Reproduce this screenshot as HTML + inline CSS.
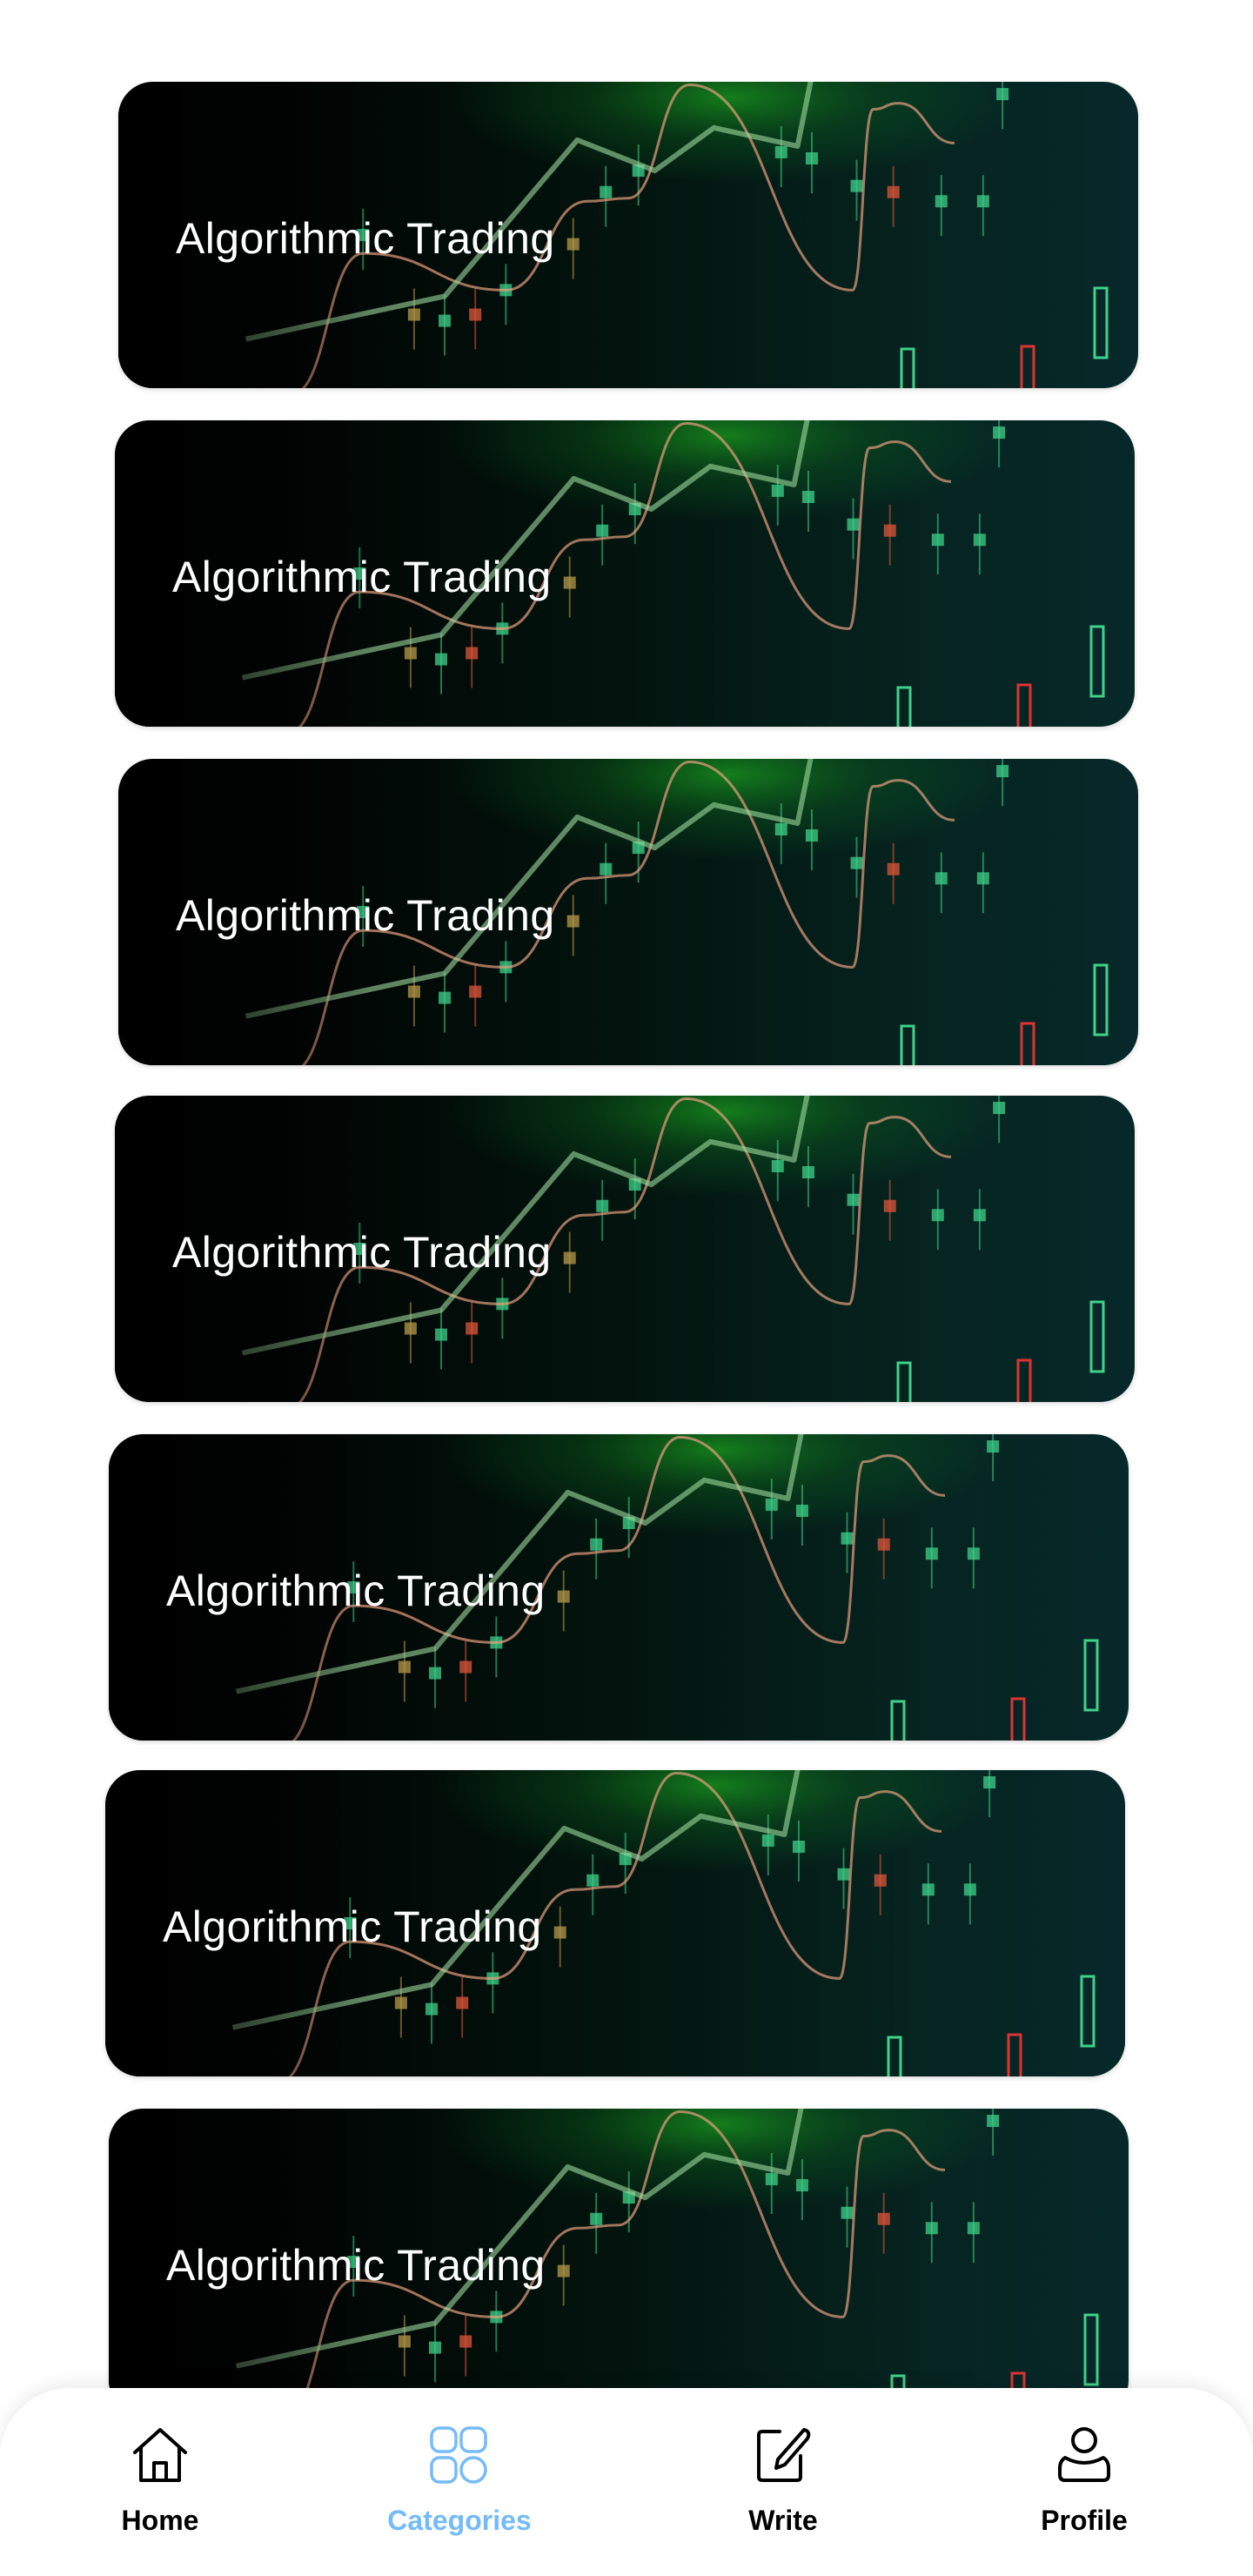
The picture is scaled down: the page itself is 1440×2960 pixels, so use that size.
<!DOCTYPE html>
<html><head><meta charset="utf-8">
<style>
html,body{margin:0;padding:0;background:#fff;}
body{width:1440px;height:2960px;position:relative;overflow:hidden;font-family:"Liberation Sans",sans-serif;}
.card{position:absolute;width:1172px;height:352px;border-radius:40px;overflow:hidden;
 background:linear-gradient(90deg,#000 0%,#010604 20%,#03140e 50%,#062420 80%,#07282a 100%);box-shadow:0 2px 6px rgba(0,0,0,.15);}
.card svg{position:absolute;left:0;top:0;}
.card .title{position:absolute;left:66px;top:4px;height:352px;line-height:352px;color:#fff;font-size:50px;letter-spacing:0.4px;}
.nav{position:absolute;left:0;top:2744px;width:1440px;height:216px;background:#fff;border-radius:80px 80px 0 0;box-shadow:0 -6px 18px rgba(0,0,0,.08);}
.item{position:absolute;top:0;width:200px;text-align:center;}
.item svg{position:absolute;left:66px;top:44px;}
.item .lbl{position:absolute;left:0;width:200px;top:134px;font-size:32px;font-weight:bold;color:#000;}
</style></head><body>
<div id="cards"></div>

<div class="nav">
 <div class="item" style="left:84px">
  <svg width="68" height="66" viewBox="0 0 68 66"><path d="M5 30 L34 4 L63 30 M12 24 V62 H56 V24 M27 62 V42 H41 V62" fill="none" stroke="#000" stroke-width="4" stroke-linejoin="round" stroke-linecap="round"/></svg>
  <div class="lbl">Home</div></div>
 <div class="item" style="left:428px">
  <svg width="68" height="66" viewBox="0 0 68 66"><g fill="none" stroke="#74bbf9" stroke-width="3.5"><rect x="2" y="2" width="28" height="27" rx="9"/><rect x="36" y="2" width="28" height="27" rx="9"/><rect x="2" y="36" width="28" height="28" rx="9"/><circle cx="50" cy="50" r="14"/></g></svg>
  <div class="lbl" style="color:#74bbf9">Categories</div></div>
 <div class="item" style="left:800px">
  <svg width="68" height="66" viewBox="0 0 68 66"><path d="M30 6 H10 Q6 6 6 10 V58 Q6 62 10 62 H50 Q54 62 54 58 V34" fill="none" stroke="#000" stroke-width="4" stroke-linecap="round"/><path d="M58 4 Q66 6 62 14 L36 44 L26 48 L28 38 Z" fill="none" stroke="#000" stroke-width="4" stroke-linejoin="round"/></svg>
  <div class="lbl">Write</div></div>
 <div class="item" style="left:1146px">
  <svg width="68" height="66" viewBox="0 0 68 66"><circle cx="34" cy="16" r="13" fill="none" stroke="#000" stroke-width="4"/><path d="M12 36 Q34 48 56 36 Q62 40 62 48 V56 Q62 62 56 62 H12 Q6 62 6 56 V48 Q6 40 12 36 Z" fill="none" stroke="#000" stroke-width="4" stroke-linejoin="round"/></svg>
  <div class="lbl">Profile</div></div>
</div>

<script>
// card placements
const cardLefts=[136,132,136,132,125,121,125];
const cardTops=[94,483,872,1259,1648,2034,2423];
const cardTitles=["Algorithmic Trading","Algorithmic Trading","Algorithmic Trading","Algorithmic Trading","Algorithmic Trading","Algorithmic Trading","Algorithmic Trading"];
// decorative chart data (x in % of width, value 0..100, higher = up)
const trendX=[12.5,32,45,52.6,58.4,66.6,68];
const trendY=[16,30,81,71,85,79,102];
const waveX=[17,24,38,46,50,56,72,74,76.5,82];
const waveY=[-2,44,32,61,62,99,32,91,93,80];
const candleX=[24,29,32,35,38,44.6,47.8,51,65,68,72.4,76,80.7,84.8,86.7];
const candleY=[50,24,22,24,32,47,64,71,77,75,66,64,61,61,96];
const candleUp=[1,2,1,0,1,2,1,1,1,1,1,0,1,1,1];
const W=1172,H=352;
const sx=v=>v/100*W, sy=v=>H-v/100*H;
function smooth(xs,ys){let d=`M${sx(xs[0])},${sy(ys[0])}`;for(let i=1;i<xs.length;i++){const x0=sx(xs[i-1]),y0=sy(ys[i-1]),x1=sx(xs[i]),y1=sy(ys[i]);const mx=(x0+x1)/2;d+=` C${mx},${y0} ${mx},${y1} ${x1},${y1}`;}return d;}
const NS="http://www.w3.org/2000/svg";
const host=document.getElementById('cards');
cardTops.forEach((t,i)=>{
 const c=document.createElement('div');
 c.className='card';c.style.left=cardLefts[i]+'px';c.style.top=t+'px';
 
 
 const svg=document.createElementNS(NS,'svg');svg.setAttribute('width',W);svg.setAttribute('height',H);
 
 
 let inner=`<defs><radialGradient id="g${i}" cx="0.6" cy="0.05" r="0.28"><stop offset="0" stop-color="#22d022" stop-opacity="0.55"/><stop offset="0.5" stop-color="#119922" stop-opacity="0.22"/><stop offset="1" stop-color="#0a3" stop-opacity="0"/></radialGradient><linearGradient id="f${i}" x1="0" x2="1"><stop offset="0" stop-color="#000" stop-opacity="1"/><stop offset="0.25" stop-color="#000" stop-opacity="0"/></linearGradient></defs>`;
 inner+=`<rect width="${W}" height="${H}" fill="url(#g${i})"/>`;
 candleX.forEach((cx,k)=>{const col=candleUp[k]===1?'#3fd28a':(candleUp[k]===2?'#b89a4a':'#e0553a');const x=sx(cx),y=sy(candleY[k]);
  inner+=`<line x1="${x}" y1="${y-30}" x2="${x}" y2="${y+40}" stroke="${col}" stroke-opacity="0.55" stroke-width="2"/><rect x="${x-7}" y="${y-7}" width="14" height="14" fill="${col}" opacity="0.75"/>`;});
 inner+=`<path d="${smooth(waveX,waveY)}" fill="none" stroke="#e8a080" stroke-opacity="0.7" stroke-width="3"/>`;
 inner+=`<polyline points="${trendX.map((x,k)=>sx(x)+','+sy(trendY[k])).join(' ')}" fill="none" stroke="#9fd89f" stroke-opacity="0.6" stroke-width="6" stroke-linejoin="round"/>`;
 inner+=`<rect x="1122" y="${H-115}" width="14" height="80" fill="none" stroke="#3fd28a" stroke-width="3"/><rect x="900" y="${H-45}" width="14" height="60" fill="none" stroke="#3fd28a" stroke-width="3"/><rect x="1038" y="${H-48}" width="14" height="60" fill="none" stroke="#d33" stroke-width="3"/>`;
 inner+=`<rect width="${W}" height="${H}" fill="url(#f${i})"/>`;
 svg.innerHTML=inner;c.appendChild(svg);
 const tt=document.createElement('div');tt.className='title';tt.textContent=cardTitles[i];
 
 
 c.appendChild(tt);host.appendChild(c);
});
</script>
</body></html>
